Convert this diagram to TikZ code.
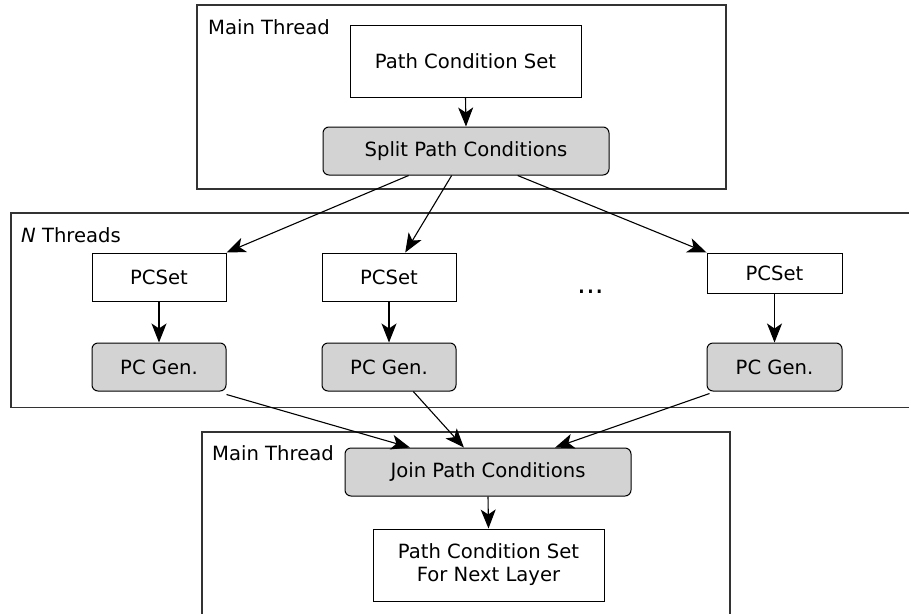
\documentclass[tikz,border=0pt]{standalone}
\usepackage{fontspec}
\setmainfont{DejaVu Sans}
\usetikzlibrary{arrows.meta,calc}
\definecolor{boxgray}{HTML}{D3D3D3}
\definecolor{framegray}{HTML}{333333}
\begin{document}
\begin{tikzpicture}[x=1pt,y=-1pt,
  every node/.style={font=\fontsize{19.6}{23}\selectfont},
  plainbox/.style={draw=black,line width=1pt,fill=white,inner sep=0pt,align=center},
  procbox/.style={draw=black,line width=1pt,fill=boxgray,rounded corners=6pt,inner sep=0pt,align=center},
  frame/.style={draw=framegray,line width=1.3pt},
  lbl/.style={anchor=base west,inner sep=0pt},
  arr/.style={draw=black,line width=1.1pt,-{Stealth[length=19pt,width=15pt,inset=5pt]}}]
\useasboundingbox (0,0) rectangle (909,613);
% frames
\draw[frame] (197,5) rectangle (726,189);
\draw[frame] (915,213) -- (11,213) -- (11,407.5) -- (915,407.5);
\draw[frame] (202,620) -- (202,432) -- (730,432) -- (730,620);
\node[lbl] (lab1) at (208,34) {Main Thread};
\node[lbl] (lab2) at (21,242) {\textit{N} Threads};
\node[lbl] (lab3) at (212,460) {Main Thread};
% nodes
\node[plainbox,minimum width=231pt,minimum height=72pt] (pcs) at (465.5,61) {Path Condition Set};
\node[procbox,minimum width=286pt,minimum height=48pt] (split) at (466,151) {Split Path Conditions};
\node[plainbox,minimum width=134pt,minimum height=48pt] (set1) at (159,277) {PCSet};
\node[procbox,minimum width=134pt,minimum height=48pt] (gen1) at (159,367) {PC Gen.};
\node[plainbox,minimum width=134pt,minimum height=48pt] (set2) at (389,277) {PCSet};
\node[procbox,minimum width=134pt,minimum height=48pt] (gen2) at (389,367) {PC Gen.};
\node[plainbox,minimum width=135pt,minimum height=40pt] (set3) at (774.5,273) {PCSet};
\node[procbox,minimum width=135pt,minimum height=48pt] (gen3) at (774.5,367) {PC Gen.};
\node[anchor=base,inner sep=0pt,font=\fontsize{28}{30}\selectfont] (dots) at (590.5,293) {...};
\node[procbox,minimum width=286pt,minimum height=48pt] (join) at (488,472) {Join Path Conditions};
\node[plainbox,minimum width=231pt,minimum height=72pt] (next) at (488.5,565) {Path Condition Set\\For Next Layer};
% connectors
\draw[arr] (pcs.south) -- (split.north);
\draw[arr] ($(split.south west)!0.30!(split.south east)$) -- (set1.north east);
\draw[arr] ($(split.south west)!0.45!(split.south east)$) -- ($(set2.north west)!0.62!(set2.north east)$);
\draw[arr] ($(split.south west)!0.68!(split.south east)$) -- (set3.north west);
\draw[arr] (set1.south) -- (gen1.north);
\draw[arr] (set2.south) -- (gen2.north);
\draw[arr] (set3.south) -- (gen3.north);
\draw[arr] ([yshift=-3pt]gen1.south east) -- ($(join.north west)!0.228!(join.north east)$);
\draw[arr] ($(gen2.south west)!0.68!(gen2.south east)$) -- ($(join.north west)!0.416!(join.north east)$);
\draw[arr] ([xshift=3pt,yshift=-2pt]gen3.south west) -- ($(join.north west)!0.734!(join.north east)$);
\draw[arr] (join.south) -- (next.north);
\end{tikzpicture}
\end{document}
